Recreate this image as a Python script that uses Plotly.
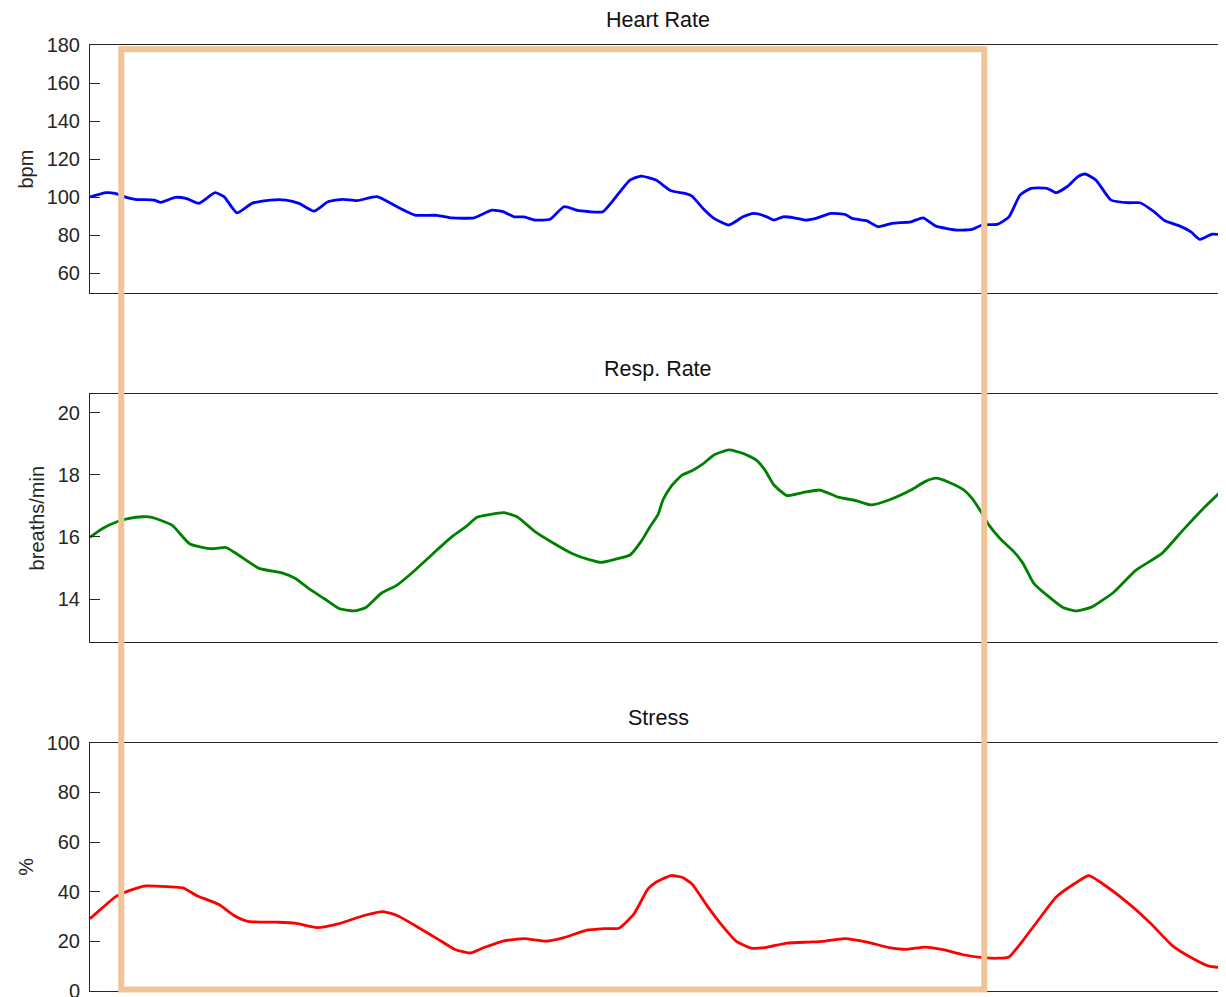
import plotly.graph_objects as go

# ---------------- data ----------------
hr_t = [0, 16, 25, 34, 45, 64, 71, 85, 96, 109, 125, 134, 147, 162, 180, 196, 209, 224, 238, 253,
        267, 287, 307, 325, 347, 362, 384, 402, 413, 424, 434, 445, 460, 474, 489, 513, 522, 540,
        551, 566, 581, 595, 602, 613, 624, 639, 653, 664, 675, 684, 693, 704, 715, 726, 741, 755,
        762, 777, 788, 802, 821, 833, 846, 868, 882, 892, 908, 919, 930, 941, 957, 966, 977, 988,
        995, 1006, 1021, 1039, 1050, 1064, 1075, 1090, 1101, 1110, 1122, 1136]
hr_bpm = [100.2, 102.4, 102.0, 100.3, 98.9, 98.5, 97.3, 99.9, 99.4, 96.8, 102.4, 100.3, 91.8, 96.8,
          98.5, 98.5, 96.8, 92.7, 97.6, 98.9, 98.2, 100.3, 95.0, 90.6, 90.5, 89.1, 89.2, 93.2, 92.4,
          89.7, 89.7, 88.0, 88.4, 95.0, 92.9, 92.4, 97.6, 109.0, 111.1, 109.0, 103.4, 102.0, 100.6,
          94.1, 88.9, 85.4, 89.7, 91.5, 90.1, 88.0, 89.7, 89.2, 88.0, 88.9, 91.5, 91.0, 88.9, 87.6,
          84.5, 86.3, 87.1, 89.2, 84.8, 82.7, 83.1, 85.4, 85.9, 89.7, 101.1, 104.7, 104.7, 102.4,
          105.5, 110.8, 112.2, 109.0, 98.5, 97.1, 97.1, 92.4, 87.6, 84.8, 81.8, 77.8, 80.6, 80.1]

rr_t = [0, 13, 27, 38, 53, 62, 82, 100, 122, 136, 147, 169, 191, 205, 220, 234, 249, 264, 276, 291,
        307, 325, 347, 362, 376, 387, 398, 414, 427, 445, 464, 482, 500, 511, 525, 540, 551, 560,
        568, 573, 581, 592, 602, 613, 624, 639, 653, 666, 675, 684, 697, 712, 730, 748, 766, 781,
        799, 821, 835, 846, 861, 873, 882, 892, 899, 910, 924, 933, 944, 959, 973, 986, 1002, 1024,
        1046, 1072, 1093, 1115, 1136]
rr_bpm = [15.99, 16.28, 16.49, 16.59, 16.65, 16.63, 16.38, 15.77, 15.62, 15.66, 15.45, 14.99, 14.85,
          14.67, 14.31, 14.02, 13.70, 13.62, 13.73, 14.18, 14.45, 14.93, 15.58, 16.01, 16.33, 16.63,
          16.71, 16.78, 16.65, 16.17, 15.79, 15.47, 15.26, 15.18, 15.28, 15.42, 15.85, 16.33, 16.72,
          17.19, 17.62, 17.99, 18.13, 18.35, 18.64, 18.80, 18.69, 18.48, 18.15, 17.67, 17.33, 17.42,
          17.51, 17.28, 17.17, 17.03, 17.19, 17.51, 17.78, 17.89, 17.73, 17.53, 17.24, 16.76, 16.38,
          15.95, 15.52, 15.15, 14.50, 14.07, 13.73, 13.62, 13.75, 14.23, 14.93, 15.47, 16.22, 16.97,
          17.62]

st_t = [0, 13, 25, 38, 56, 78, 93, 107, 129, 144, 158, 187, 205, 227, 249, 274, 293, 307, 325, 347,
        365, 380, 394, 413, 434, 456, 474, 496, 514, 529, 544, 558, 566, 581, 592, 602, 617, 632,
        646, 661, 675, 697, 719, 733, 755, 777, 799, 817, 835, 853, 872, 890, 908, 919, 933, 948,
        966, 984, 999, 1013, 1039, 1061, 1082, 1101, 1119, 1136]
st_pct = [29.1, 33.7, 37.8, 40.2, 42.3, 42.0, 41.5, 38.4, 34.8, 30.4, 28.0, 27.7, 27.3, 25.5, 27.1,
          30.4, 32.0, 30.4, 26.4, 21.1, 16.7, 15.3, 17.5, 20.1, 21.1, 20.1, 21.5, 24.4, 25.1, 25.3,
          31.1, 41.1, 43.8, 46.5, 45.8, 43.1, 34.4, 26.4, 20.1, 17.3, 17.5, 19.3, 19.7, 20.0, 21.1,
          19.7, 17.5, 16.8, 17.7, 16.7, 14.7, 13.5, 13.2, 13.7, 20.4, 28.4, 37.8, 43.1, 46.5, 43.1,
          35.1, 27.1, 18.4, 13.5, 10.0, 9.3]

titles = ["Heart Rate", "Resp. Rate", "Stress"]
ylabels = ["bpm", "breaths/min", "%"]
hr_ticks = [60, 80, 100, 120, 140, 160, 180]
rr_ticks = [14, 16, 18, 20]
st_ticks = [0, 20, 40, 60, 80, 100]

# ---------------- styling ----------------
FONT = "Liberation Sans, Arial, sans-serif"
AX = "#262626"
X_RANGE = [0, 1136]
y_ranges = [[49.5, 180], [12.61, 20.60], [0, 100]]
domains = [[0.7375, 1.0], [0.3686, 0.6311], [0.0, 0.2625]]
tick_sets = [hr_ticks, rr_ticks, st_ticks]
colors = ["#0000FF", "#008000", "#FF0000"]
series = [(hr_t, hr_bpm), (rr_t, rr_bpm), (st_t, st_pct)]

fig = go.Figure()
for i, ((tx, ty), col) in enumerate(zip(series, colors)):
    sfx = "" if i == 0 else str(i + 1)
    fig.add_trace(go.Scatter(x=tx, y=ty, mode="lines", xaxis="x" + sfx, yaxis="y" + sfx,
                             line=dict(color=col, width=2.8, shape="spline", smoothing=0.5),
                             showlegend=False, hoverinfo="skip"))
    # empty helper traces so the right-hand tick axes get drawn
    fig.add_trace(go.Scatter(x=[], y=[], mode="lines", xaxis="x" + sfx, yaxis="y" + str(i + 4),
                             showlegend=False, hoverinfo="skip"))

# the page body adds an 8px offset; the figure is sized to fill the rest of the window
layout = dict(
    width=1218, height=989,
    margin=dict(l=82, r=0, t=37, b=6, autoexpand=False),
    paper_bgcolor="white", plot_bgcolor="white",
    font=dict(family=FONT, size=20, color=AX),
    showlegend=False,
)
for i in range(3):
    sfx = "" if i == 0 else str(i + 1)
    layout["xaxis" + sfx] = dict(domain=[0, 1], anchor="y" + sfx, range=X_RANGE, automargin=False,
                                 showticklabels=False, ticks="", showgrid=False, zeroline=False,
                                 showline=True, linecolor=AX, linewidth=1, mirror=True)
    layout["yaxis" + sfx] = dict(domain=domains[i], anchor="x" + sfx, range=y_ranges[i],
                                 automargin=False,
                                 tickvals=tick_sets[i], ticks="inside", ticklen=10, tickcolor=AX,
                                 tickwidth=1, showgrid=False, zeroline=False, showline=True,
                                 linecolor=AX, linewidth=1, mirror=False,
                                 ticklabelstandoff=5, ticklabeloverflow="allow",
                                 tickfont=dict(family=FONT, size=20, color=AX),
                                 title=dict(text=ylabels[i], standoff=7,
                                            font=dict(family=FONT, size=20, color=AX)))
    # right-hand tick marks
    layout["yaxis" + str(i + 4)] = dict(overlaying="y" + sfx, anchor="x" + sfx, side="right",
                                        range=y_ranges[i], tickvals=tick_sets[i], ticks="inside",
                                        automargin=False,
                                        ticklen=4, tickcolor=AX, showticklabels=False,
                                        showgrid=False, zeroline=False, showline=False)

fig.update_layout(**layout)

for i in range(3):
    fig.add_annotation(text=titles[i], xref="paper", yref="paper", x=0.5, y=domains[i][1],
                       xanchor="center", yanchor="middle", yshift=25, showarrow=False,
                       font=dict(family=FONT, size=21.5, color="#111111"))

# highlighted window
fig.add_shape(type="rect", xref="paper", yref="paper", x0=0.0275, x1=0.7872, y0=0.0016, y1=0.9955,
              line=dict(color="#F0C496", width=6), fillcolor="rgba(0,0,0,0)", layer="above")

fig.write_html("out.html")
